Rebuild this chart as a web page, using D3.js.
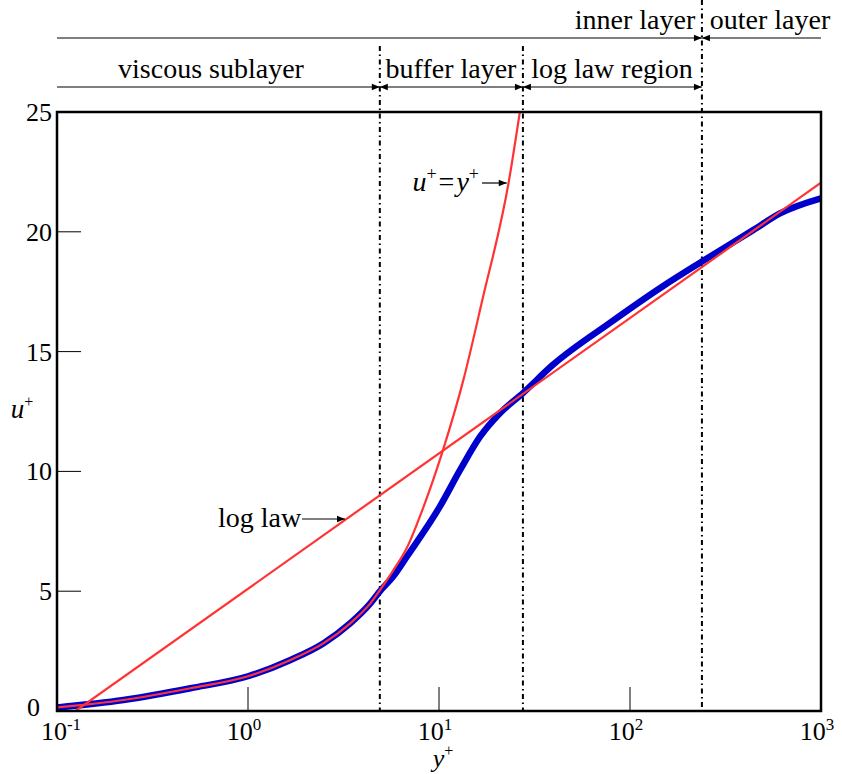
<!DOCTYPE html>
<meta charset="utf-8">
<script src="https://d3js.org/d3.v7.min.js"></script>
<style>
  body { margin: 0; background: #fff; }
  svg text { font-family: "Liberation Serif", "Times New Roman", "DejaVu Serif", serif; fill: #000; }
</style>
<div id="chart"></div>
<script>
// velocity profile (y+, u+)
var profileY = [0.1, 0.223, 0.5, 1.01, 1.67, 2.49, 3.43, 4.37, 4.91, 5.74, 6.78, 10.1, 12.9, 16.4, 20.9, 27.5, 39.5, 78.5, 150, 237, 441, 610, 1000];
var profileU = [0.15, 0.46, 0.95, 1.46, 2.13, 2.83, 3.66, 4.49, 5.0, 5.6, 6.44, 8.53, 10.06, 11.45, 12.44, 13.27, 14.45, 16.2, 17.75, 18.75, 20.07, 20.77, 21.4];

// u+ = y+ curve
var linearY = [0.1, 0.223, 0.5, 1.01, 1.67, 2.49, 3.43, 4.37, 4.91, 5.74, 6.78, 8.28, 10.5, 13.4, 16.8, 23.2, 26.5];
var linearU = [0.15, 0.46, 0.95, 1.46, 2.13, 2.83, 3.66, 4.49, 5.05, 5.85, 6.8, 8.5, 10.9, 13.8, 17.1, 22.1, 25];

// log law line
var logY = [0.125, 1000];
var logU = [0, 22.05];

// region boundaries
var bounds = [4.9, 27.5, 238];

var xTicks = [0.1, 1, 10, 100, 1000];
var xTickExp = ["-1", "0", "1", "2", "3"];
var yTicks = [0, 5, 10, 15, 20, 25];

var W = 842, H = 774;
var mLeft = 57, mRight = 821, mTop = 112, mBottom = 711;

var svg = d3.select("#chart").append("svg")
  .attr("width", W).attr("height", H);

var defs = svg.append("defs");
defs.append("marker")
  .attr("id", "arr")
  .attr("viewBox", "0 0 10 10")
  .attr("refX", 10).attr("refY", 5)
  .attr("markerWidth", 10).attr("markerHeight", 8)
  .attr("markerUnits", "userSpaceOnUse")
  .attr("orient", "auto-start-reverse")
  .append("path").attr("d", "M0,1 L10,5 L0,9 Z").attr("fill", "#000");

var x = d3.scaleLog().domain([0.1, 1000]).range([mLeft, mRight]);
var y = d3.scaleLinear().domain([0, 25]).range([mBottom, mTop]);

defs.append("clipPath").attr("id", "plot")
  .append("rect").attr("x", mLeft).attr("y", mTop).attr("width", mRight - mLeft).attr("height", mBottom - mTop);

var line = d3.line().x(function(d) { return x(d[0]); }).y(function(d) { return y(d[1]); });
var smooth = d3.line().curve(d3.curveMonotoneX).x(function(d) { return x(d[0]); }).y(function(d) { return y(d[1]); });

// ticks inside the box
svg.selectAll(".xt").data(xTicks.slice(1, 4)).enter().append("line")
  .attr("x1", function(d) { return x(d); }).attr("x2", function(d) { return x(d); })
  .attr("y1", mBottom).attr("y2", mBottom - 24)
  .attr("stroke", "#000").attr("stroke-width", 1);
svg.selectAll(".yt").data(yTicks.slice(1, 5)).enter().append("line")
  .attr("x1", mLeft).attr("x2", mLeft + 24)
  .attr("y1", function(d) { return y(d); }).attr("y2", function(d) { return y(d); })
  .attr("stroke", "#000").attr("stroke-width", 1);

// region boundaries
svg.selectAll(".bd").data(bounds).enter().append("line")
  .attr("x1", function(d) { return x(d); }).attr("x2", function(d) { return x(d); })
  .attr("y1", function(d, i) { return i == 2 ? 0 : 46; }).attr("y2", mBottom)
  .attr("stroke", "#000").attr("stroke-width", 2)
  .attr("stroke-dasharray", "5,3.5,1.5,3.5");

var g = svg.append("g").attr("clip-path", "url(#plot)");

g.append("path")
  .datum(d3.zip(profileY, profileU))
  .attr("d", smooth)
  .attr("fill", "none").attr("stroke", "#0000cc").attr("stroke-width", 6.5)
  .attr("stroke-linejoin", "round").attr("stroke-linecap", "round");

g.append("path")
  .datum(d3.zip(linearY, linearU))
  .attr("d", smooth)
  .attr("fill", "none").attr("stroke", "#ff3333").attr("stroke-width", 2.2);

g.append("path")
  .datum(d3.zip(logY, logU))
  .attr("d", line)
  .attr("fill", "none").attr("stroke", "#ff3333").attr("stroke-width", 2.2);

// frame
svg.append("rect")
  .attr("x", mLeft).attr("y", mTop).attr("width", mRight - mLeft).attr("height", mBottom - mTop)
  .attr("fill", "none").attr("stroke", "#000").attr("stroke-width", 2.5);

// y tick labels
svg.selectAll(".yl").data(yTicks).enter().append("text")
  .attr("x", function(d) { return d == 0 ? 40 : 52; })
  .attr("y", function(d) { return d == 0 ? 716 : y(d) + 9; })
  .attr("text-anchor", "end")
  .attr("font-size", 26)
  .text(function(d) { return d; });

// x tick labels
var xl = svg.selectAll(".xl").data(xTicks).enter().append("text")
  .attr("x", function(d, i) { return i == 0 ? x(d) + 4 : x(d) - 4; })
  .attr("y", 740)
  .attr("text-anchor", "middle")
  .attr("font-size", 26);
xl.append("tspan").text("10");
xl.append("tspan").attr("font-size", 17).attr("dy", -10).text(function(d, i) { return xTickExp[i]; });

// axis titles
var xt = svg.append("text").attr("x", 443).attr("y", 767).attr("text-anchor", "middle").attr("font-size", 26);
xt.append("tspan").attr("font-style", "italic").text("y");
xt.append("tspan").attr("font-size", 16).attr("dy", -11).text("+");

var yt = svg.append("text").attr("x", 22).attr("y", 418).attr("text-anchor", "middle").attr("font-size", 27);
yt.append("tspan").attr("font-style", "italic").text("u");
yt.append("tspan").attr("font-size", 16).attr("dy", -11).text("+");

// region labels and arrows on top
function arrow(x1, x2, yy, both) {
  var l = svg.append("line").attr("x1", x1).attr("x2", x2).attr("y1", yy).attr("y2", yy)
    .attr("stroke", "#000").attr("stroke-width", 1.2)
    .attr("marker-end", "url(#arr)");
  if (both) l.attr("marker-start", "url(#arr)");
}
var b = bounds.map(function(d) { return x(d); });
arrow(mLeft, b[2], 38, false);
arrow(mRight, b[2], 38, false);
arrow(mLeft, b[0], 87, false);
arrow(b[0], b[1], 87, true);
arrow(b[1], b[2], 87, true);

var labels = [
  {t: "inner layer", x: 635, y: 29},
  {t: "outer layer", x: 770, y: 29},
  {t: "viscous sublayer", x: 211, y: 78},
  {t: "buffer layer", x: 451, y: 78},
  {t: "log law region", x: 612, y: 78}
];
svg.selectAll(".rl").data(labels).enter().append("text")
  .attr("x", function(d) { return d.x; }).attr("y", function(d) { return d.y; })
  .attr("text-anchor", "middle").attr("font-size", 28)
  .text(function(d) { return d.t; });

// annotations
var a1 = svg.append("text").attr("x", 479).attr("y", 191).attr("font-size", 28).attr("text-anchor", "end");
a1.append("tspan").attr("font-style", "italic").text("u");
a1.append("tspan").attr("font-size", 18).attr("dy", -11).text("+");
a1.append("tspan").attr("dy", 11).attr("dx", 2).text("=");
a1.append("tspan").attr("font-style", "italic").attr("dx", 2).text("y");
a1.append("tspan").attr("font-size", 18).attr("dy", -11).text("+");
arrow(482, x(22.9) - 1, 183, false);

svg.append("text").attr("x", 218).attr("y", 527).attr("font-size", 28).text("log law");
arrow(302, 345, 519, false);
</script>
